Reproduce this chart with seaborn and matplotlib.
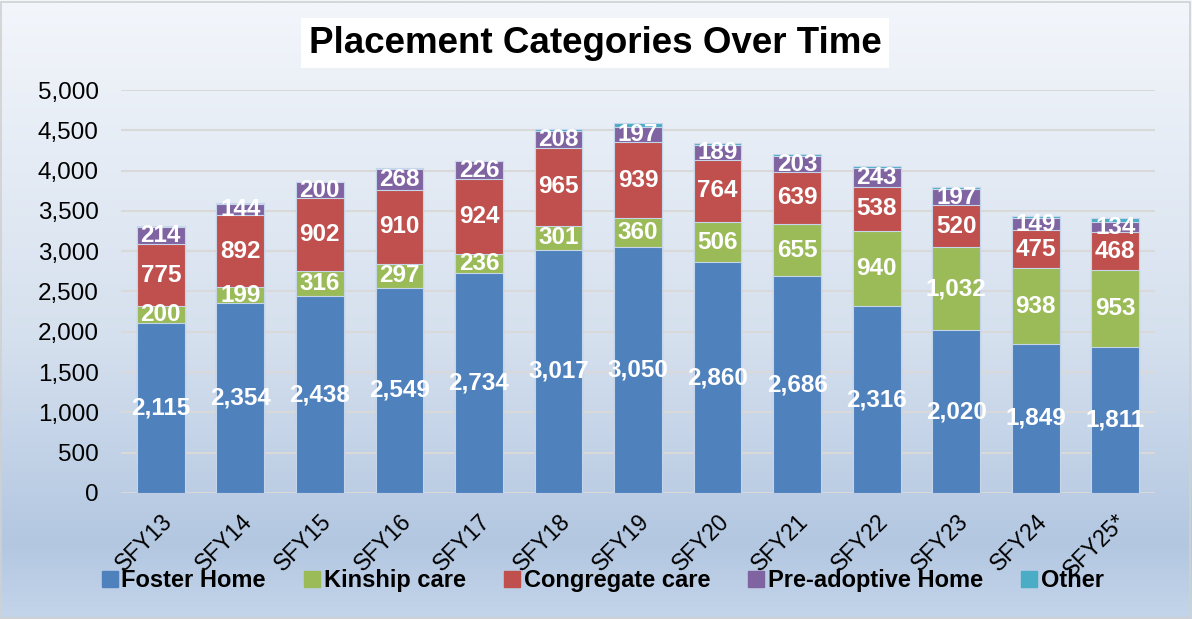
import numpy as np
import pandas as pd
import matplotlib
matplotlib.use("Agg")
import matplotlib.pyplot as plt
from matplotlib.colors import LinearSegmentedColormap
from matplotlib.lines import Line2D
import seaborn as sns

years = ["SFY13", "SFY14", "SFY15", "SFY16", "SFY17", "SFY18", "SFY19",
         "SFY20", "SFY21", "SFY22", "SFY23", "SFY24", "SFY25*"]
foster = [2115, 2354, 2438, 2549, 2734, 3017, 3050, 2860, 2686, 2316, 2020, 1849, 1811]
kinship = [200, 199, 316, 297, 236, 301, 360, 506, 655, 940, 1032, 938, 953]
congregate = [775, 892, 902, 910, 924, 965, 939, 764, 639, 538, 520, 475, 468]
preadoptive = [214, 144, 200, 268, 226, 208, 197, 189, 203, 243, 197, 149, 134]
other = [10, 8, 8, 6, 5, 25, 44, 20, 23, 24, 24, 26, 50]

series = ["Foster Home", "Kinship care", "Congregate care", "Pre-adoptive Home", "Other"]
colors = ["#4f81bd", "#9bbb59", "#c0504d", "#8064a2", "#4bacc6"]

df = pd.DataFrame({"year": years, "Foster Home": foster, "Kinship care": kinship,
                   "Congregate care": congregate, "Pre-adoptive Home": preadoptive,
                   "Other": other})

sns.set_style("white")
plt.rcParams["font.family"] = ["Liberation Sans", "DejaVu Sans"]
plt.rcParams["text.color"] = "black"
plt.rcParams["xtick.color"] = "black"
plt.rcParams["ytick.color"] = "black"

fig = plt.figure(figsize=(11.92, 6.19), dpi=100)

# gradient background
bg = fig.add_axes([0, 0, 1, 1], zorder=-10)
cmap = LinearSegmentedColormap.from_list(
    "bg", [(0, "#f3f6fb"), (0.55, "#d5e0ee"), (0.88, "#b3c7e1"), (1, "#c4d5ea")])
grad = np.linspace(0, 1, 256).reshape(-1, 1)
bg.imshow(grad, aspect="auto", cmap=cmap, extent=[0, 1, 0, 1], origin="upper")
bg.set_axis_off()
fig.patches.append(plt.Rectangle((0.001, 0.002), 0.997, 0.995, transform=fig.transFigure,
                                 fill=False, edgecolor="#d0d0d0", linewidth=1.2))

ax = fig.add_axes([0.1015, 0.2036, 0.8675, 0.651])
ax.patch.set_alpha(0)

# stacked bars: draw cumulative totals from the top layer down
cum = df[series].cumsum(axis=1)
for i in range(len(series) - 1, -1, -1):
    sns.barplot(x=df["year"], y=cum[series[i]], color=colors[i], saturation=1,
                width=0.6, edgecolor="#c5d5ea", linewidth=0.8, ax=ax, zorder=2)

# segment labels
for j in range(len(years)):
    base = 0
    for i, s in enumerate(series):
        v = df[s][j]
        if s != "Other":
            ax.text(j, base + v / 2, f"{v:,}", ha="center", va="center",
                    color="white", fontsize=17.5, fontweight="bold", zorder=3)
        base += v

ax.set_ylim(0, 5000)
ax.set_xlim(-0.5, len(years) - 0.5)
ax.set_yticks(range(0, 5001, 500))
ax.set_yticklabels([f"{t:,}" for t in range(0, 5001, 500)], fontsize=17.5)
ax.set_xticks(range(len(years)))
ax.set_xticklabels(years, fontsize=16.5, rotation=45, ha="right", va="top",
                   rotation_mode="anchor")
ax.tick_params(axis="x", length=0, pad=12)
ax.tick_params(axis="y", length=0, pad=16)
ax.set_xlabel("")
ax.set_ylabel("")
ax.yaxis.grid(True, color="#d9d9d9", linewidth=1.5, zorder=0)
ax.set_axisbelow(True)
for sp in ax.spines.values():
    sp.set_visible(False)

fig.text(0.4992, 0.9305, "Placement Categories Over Time", ha="center", va="center",
         fontsize=26.5, fontweight="bold", color="black",
         bbox=dict(facecolor="white", edgecolor="none", pad=5.5))

handles = [Line2D([0], [0], marker="s", linestyle="none", markersize=11,
                  markerfacecolor=c, markeredgecolor=c) for c in colors]
fig.legend(handles, series, loc="center", bbox_to_anchor=(0.505, 0.062), ncol=5,
           frameon=False, prop={"weight": "bold", "size": 17},
           handletextpad=0.1, columnspacing=1.55, handlelength=0.8)

fig.savefig("out.png", dpi=100)
